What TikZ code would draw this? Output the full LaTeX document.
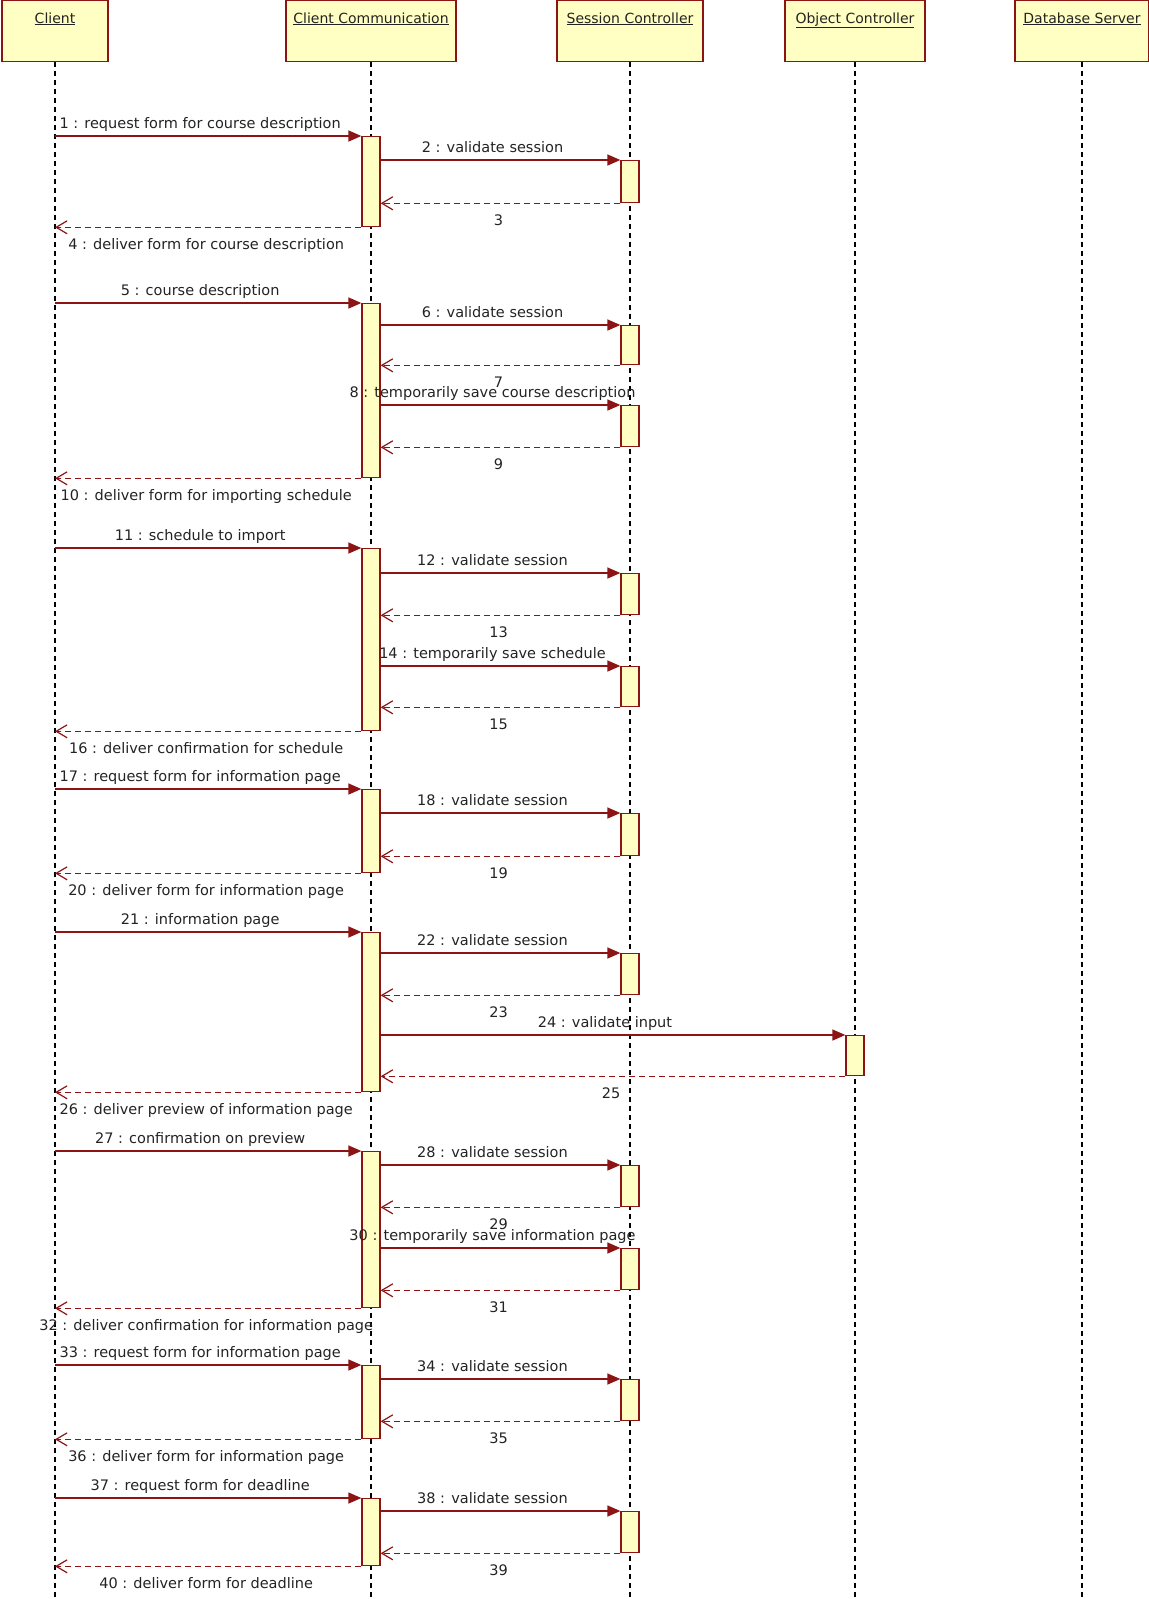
\documentclass[tikz,border=0pt]{standalone}
\usepackage{fontspec}
\setmainfont{DejaVu Sans}
\usetikzlibrary{arrows.meta}

\definecolor{umlred}{RGB}{140,20,20}
\definecolor{umlfill}{RGB}{255,255,195}
\definecolor{umltext}{RGB}{35,35,35}

\begin{document}
\begin{tikzpicture}[x=1pt,y=-1pt,
head/.style={draw=umlred,fill=umlfill,line width=1.3pt,minimum height=61pt,anchor=north,inner sep=0pt},
headtxt/.style={anchor=base,umltext,font=\fontsize{14pt}{16pt}\selectfont},
life/.style={black,line width=1.2pt,dash pattern=on 5pt off 4pt},
act/.style={draw=umlred,fill=umlfill,line width=1.3pt,minimum width=18pt,anchor=north,inner sep=0pt},
call/.style={umlred,line width=1.4pt,-{Triangle[length=13pt,width=11pt]}},
ret/.style={umlred,line width=1.2pt,dash pattern=on 6pt off 4pt,-{Straight Barb[length=11pt,width=13pt]}},
calllab/.style={midway,anchor=base,yshift=8pt,xshift=-8pt,umltext,font=\fontsize{14.5pt}{17pt}\selectfont},
retlab/.style={midway,anchor=base,yshift=-22pt,xshift=-2pt,umltext,font=\fontsize{14.5pt}{17pt}\selectfont}]

\useasboundingbox (0,0) rectangle (1149,1599);

% objects
\node (cl) at (55,0) [head,minimum width=106pt] {};
\node (cc) at (371,0) [head,minimum width=170pt] {};
\node (sc) at (630,0) [head,minimum width=146pt] {};
\node (oc) at (855,0) [head,minimum width=140pt] {};
\node (db) at (1082,0) [head,minimum width=134pt] {};

\node (cltxt) at (55,23) [headtxt] {\underline{Client}};
\node (cctxt) at (371,23) [headtxt] {\underline{Client Communication}};
\node (sctxt) at (630,23) [headtxt] {\underline{Session Controller}};
\node (octxt) at (855,23) [headtxt] {\underline{Object Controller}};
\node (dbtxt) at (1082,23) [headtxt] {\underline{Database Server}};

% lifelines
\coordinate (bot) at (0,1599);
\foreach \o in {cl,cc,sc,oc,db}
  \draw [life] (\o.south) -- (\o.south |- bot);

% activations
\node (a1) at (371,136) [act,minimum height=90pt] {};
\node (s1) at (630,160) [act,minimum height=42pt] {};
\node (a2) at (371,303) [act,minimum height=174pt] {};
\node (s2) at (630,325) [act,minimum height=39pt] {};
\node (s3) at (630,405) [act,minimum height=41pt] {};
\node (a3) at (371,548) [act,minimum height=182pt] {};
\node (s4) at (630,573) [act,minimum height=41pt] {};
\node (s5) at (630,666) [act,minimum height=40pt] {};
\node (a4) at (371,789) [act,minimum height=83pt] {};
\node (s6) at (630,813) [act,minimum height=42pt] {};
\node (a5) at (371,932) [act,minimum height=159pt] {};
\node (s7) at (630,953) [act,minimum height=41pt] {};
\node (o1) at (855,1035) [act,minimum height=40pt] {};
\node (a6) at (371,1151) [act,minimum height=156pt] {};
\node (s8) at (630,1165) [act,minimum height=41pt] {};
\node (s9) at (630,1248) [act,minimum height=41pt] {};
\node (a7) at (371,1365) [act,minimum height=73pt] {};
\node (s10) at (630,1379) [act,minimum height=41pt] {};
\node (a8) at (371,1498) [act,minimum height=67pt] {};
\node (s11) at (630,1511) [act,minimum height=41pt] {};

% messages
\draw [call] (a1.north west -| cl) -- node [calllab] {1 : request form for course description} (a1.north west);
\draw [call] (a1.east |- s1.north) -- node [calllab] {2 : validate session} (s1.north west);
\draw [ret] (s1.south west) -- node [retlab] {3} (a1.east |- s1.south);
\draw [ret] (a1.south west) -- node [retlab] {4 : deliver form for course description} (a1.south west -| cl);

\draw [call] (a2.north west -| cl) -- node [calllab] {5 : course description} (a2.north west);
\draw [call] (a2.east |- s2.north) -- node [calllab] {6 : validate session} (s2.north west);
\draw [ret] (s2.south west) -- node [retlab] {7} (a2.east |- s2.south);
\draw [call] (a2.east |- s3.north) -- node [calllab] {8 : temporarily save course description} (s3.north west);
\draw [ret] (s3.south west) -- node [retlab] {9} (a2.east |- s3.south);
\draw [ret] (a2.south west) -- node [retlab] {10 : deliver form for importing schedule} (a2.south west -| cl);

\draw [call] (a3.north west -| cl) -- node [calllab] {11 : schedule to import} (a3.north west);
\draw [call] (a3.east |- s4.north) -- node [calllab] {12 : validate session} (s4.north west);
\draw [ret] (s4.south west) -- node [retlab] {13} (a3.east |- s4.south);
\draw [call] (a3.east |- s5.north) -- node [calllab] {14 : temporarily save schedule} (s5.north west);
\draw [ret] (s5.south west) -- node [retlab] {15} (a3.east |- s5.south);
\draw [ret] (a3.south west) -- node [retlab] {16 : deliver confirmation for schedule} (a3.south west -| cl);

\draw [call] (a4.north west -| cl) -- node [calllab] {17 : request form for information page} (a4.north west);
\draw [call] (a4.east |- s6.north) -- node [calllab] {18 : validate session} (s6.north west);
\draw [ret] (s6.south west) -- node [retlab] {19} (a4.east |- s6.south);
\draw [ret] (a4.south west) -- node [retlab] {20 : deliver form for information page} (a4.south west -| cl);

\draw [call] (a5.north west -| cl) -- node [calllab] {21 : information page} (a5.north west);
\draw [call] (a5.east |- s7.north) -- node [calllab] {22 : validate session} (s7.north west);
\draw [ret] (s7.south west) -- node [retlab] {23} (a5.east |- s7.south);
\draw [call] (a5.east |- o1.north) -- node [calllab] {24 : validate input} (o1.north west);
\draw [ret] (o1.south west) -- node [retlab] {25} (a5.east |- o1.south);
\draw [ret] (a5.south west) -- node [retlab] {26 : deliver preview of information page} (a5.south west -| cl);

\draw [call] (a6.north west -| cl) -- node [calllab] {27 : confirmation on preview} (a6.north west);
\draw [call] (a6.east |- s8.north) -- node [calllab] {28 : validate session} (s8.north west);
\draw [ret] (s8.south west) -- node [retlab] {29} (a6.east |- s8.south);
\draw [call] (a6.east |- s9.north) -- node [calllab] {30 : temporarily save information page} (s9.north west);
\draw [ret] (s9.south west) -- node [retlab] {31} (a6.east |- s9.south);
\draw [ret] (a6.south west) -- node [retlab] {32 : deliver confirmation for information page} (a6.south west -| cl);

\draw [call] (a7.north west -| cl) -- node [calllab] {33 : request form for information page} (a7.north west);
\draw [call] (a7.east |- s10.north) -- node [calllab] {34 : validate session} (s10.north west);
\draw [ret] (s10.south west) -- node [retlab] {35} (a7.east |- s10.south);
\draw [ret] (a7.south west) -- node [retlab] {36 : deliver form for information page} (a7.south west -| cl);

\draw [call] (a8.north west -| cl) -- node [calllab] {37 : request form for deadline} (a8.north west);
\draw [call] (a8.east |- s11.north) -- node [calllab] {38 : validate session} (s11.north west);
\draw [ret] (s11.south west) -- node [retlab] {39} (a8.east |- s11.south);
\draw [ret] (a8.south west) -- node [retlab] {40 : deliver form for deadline} (a8.south west -| cl);

\end{tikzpicture}
\end{document}
